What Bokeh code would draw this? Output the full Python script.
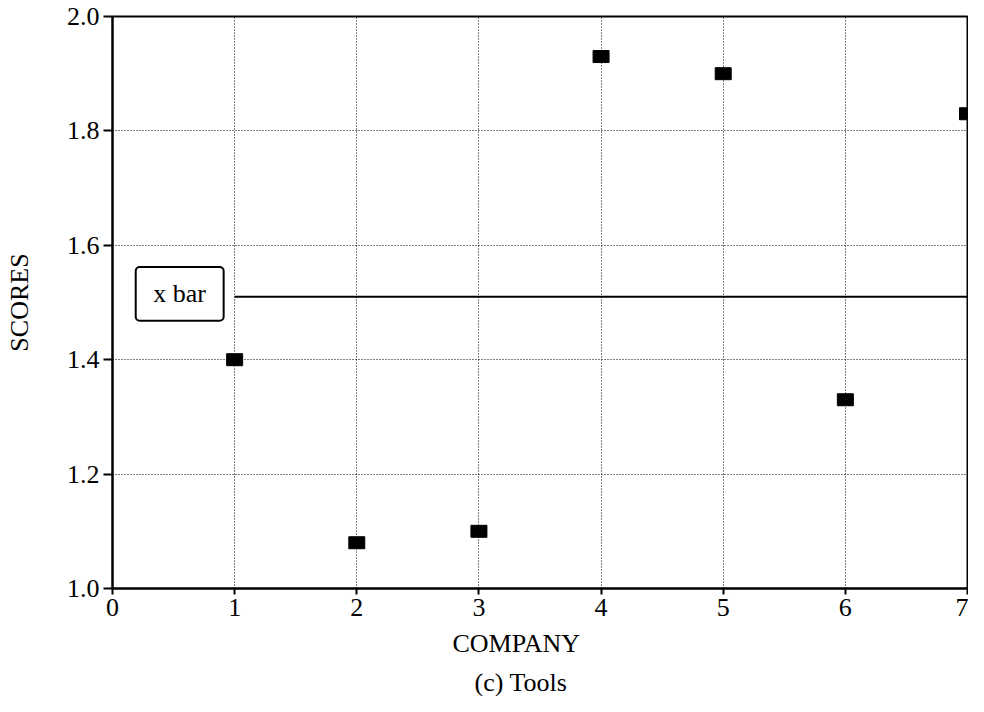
from bokeh.plotting import figure
from bokeh.models import FixedTicker, Range1d, BoxAnnotation, Label, Title, CustomJSTickFormatter
from bokeh.embed import file_html
from bokeh.resources import INLINE

company = [1, 2, 3, 4, 5, 6, 7]
scores = [1.40, 1.08, 1.10, 1.93, 1.90, 1.33, 1.83]
x_bar = 1.51
x_ticks = [0, 1, 2, 3, 4, 5, 6, 7]
y_ticks = [1.0, 1.2, 1.4, 1.6, 1.8, 2.0]

FONT = "Liberation Serif"

p = figure(width=968, height=696, output_backend="svg", toolbar_location=None,
           x_range=Range1d(0, 7), y_range=Range1d(1.0, 2.0),
           min_border_left=112, min_border_top=16, min_border_right=1, min_border_bottom=20)
p.background_fill_color = "white"
p.border_fill_color = "white"
p.outline_line_color = "black"
p.outline_line_width = 2

for ax in (p.xaxis[0], p.yaxis[0]):
    ax.axis_line_color = "black"
    ax.axis_line_width = 2
    ax.major_tick_line_color = "black"
    ax.major_tick_line_width = 2
    ax.minor_tick_line_color = None
    ax.major_tick_in = 0
    ax.major_label_text_font = FONT
    ax.major_label_text_font_size = "26px"
    ax.major_label_text_color = "black"

p.xaxis.ticker = FixedTicker(ticks=x_ticks)
p.yaxis.ticker = FixedTicker(ticks=y_ticks)
p.yaxis.formatter = CustomJSTickFormatter(code="return tick.toFixed(1);")
p.xaxis.major_tick_out = 6
p.yaxis.major_tick_out = 9
p.xaxis.major_label_standoff = 4
p.yaxis.major_label_standoff = 4

p.yaxis.axis_label = "SCORES"
p.yaxis.axis_label_text_font = FONT
p.yaxis.axis_label_text_font_size = "26px"
p.yaxis.axis_label_text_font_style = "normal"
p.yaxis.axis_label_text_color = "black"
p.yaxis.axis_label_standoff = 30

for g in (p.xgrid[0], p.ygrid[0]):
    g.grid_line_color = "black"
    g.grid_line_width = 1
    g.grid_line_dash = "1 2"
p.xgrid.ticker = FixedTicker(ticks=x_ticks)
p.ygrid.ticker = FixedTicker(ticks=y_ticks)

# mean line from company 1 to 7
p.segment(x0=[company[0]], y0=[x_bar], x1=[company[-1]], y1=[x_bar],
          line_color="black", line_width=2)

# legend-like box
box = BoxAnnotation(left=0.19, right=0.91, bottom=1.468, top=1.562,
                    fill_color="white", fill_alpha=1.0,
                    line_color="black", line_alpha=1.0, line_width=2, border_radius=4)
p.add_layout(box)
p.add_layout(Label(x=0.55, y=1.515, text="x bar", text_font=FONT,
                   text_font_size="26px", text_align="center",
                   text_baseline="middle", text_color="black"))

p.rect(x=company, y=scores, width=16, height=12, width_units="screen",
       height_units="screen", fill_color="black", line_color="black")

t1 = Title(text="COMPANY", align="left", offset=340, text_font=FONT,
           text_font_size="26px", text_font_style="normal", text_color="black",
           standoff=16)
t2 = Title(text="(c) Tools", align="left", offset=362, text_font=FONT,
           text_font_size="26px", text_font_style="normal", text_color="black",
           standoff=0)
p.add_layout(t1, "below")
p.add_layout(t2, "below")

open("out.html", "w").write(file_html(p, INLINE))
